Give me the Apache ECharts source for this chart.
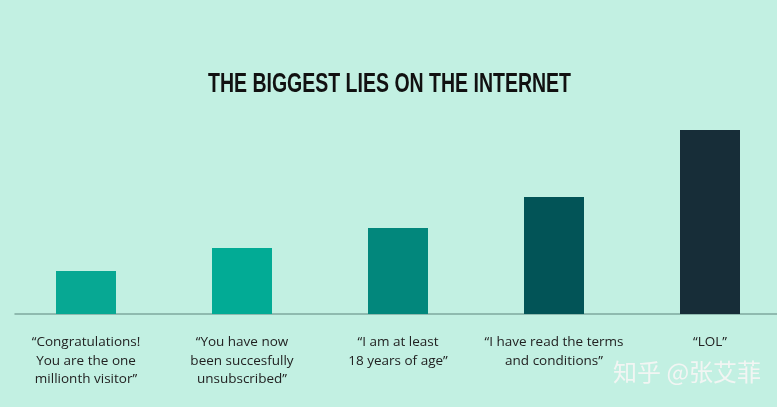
<!DOCTYPE html>
<html>
<head>
<meta charset="utf-8">
<script src="https://cdn.jsdelivr.net/npm/echarts@6/dist/echarts.min.js"></script>
<style>
html,body{margin:0;padding:0;background:#c2f0e2;}
#chart{width:777px;height:407px;}
</style>
</head>
<body>
<div id="chart"></div>
<script>
const titleText = 'THE BIGGEST LIES ON THE INTERNET';
const categories = [
  '\u201cCongratulations!\nYou are the one\nmillionth visitor\u201d',
  '\u201cYou have now\nbeen succesfully\nunsubscribed\u201d',
  '\u201cI am at least\n18 years of age\u201d',
  '\u201cI have read the terms\nand conditions\u201d',
  '\u201cLOL\u201d'
];
const values = [43, 66, 86, 117, 184];
const barColors = ['#07a893', '#02ab95', '#02877c', '#025457', '#172d38'];

const titleFont = 'bold 27px "Liberation Sans", Arial, sans-serif';
const cv = document.createElement('canvas').getContext('2d');
cv.font = titleFont;
const titleW = cv.measureText(titleText).width;
const targetW = 363;
const sx = targetW / titleW;

const chart = echarts.init(document.getElementById('chart'));
chart.setOption({
  backgroundColor: '#c2f0e2',
  animation: false,
  grid: [
    { left: 86, width: 624, top: 114, height: 200 },
    { left: 15, right: 0, top: 114, height: 200 }
  ],
  xAxis: [{
    type: 'category',
    gridIndex: 0,
    boundaryGap: false,
    data: categories,
    axisLine: { show: false },
    axisTick: { show: false },
    axisLabel: {
      interval: 0,
      margin: 19,
      fontFamily: 'Open Sans, Lato, sans-serif',
      fontSize: 13.5,
      lineHeight: 18.5,
      color: '#222',
      align: 'center'
    }
  }, {
    type: 'value',
    gridIndex: 1,
    min: 0, max: 1,
    axisLine: { show: true, lineStyle: { color: '#7fa89e', width: 1.5 } },
    axisTick: { show: false },
    axisLabel: { show: false },
    splitLine: { show: false }
  }],
  yAxis: [{
    type: 'value', gridIndex: 0, min: 0, max: 200,
    show: false, splitLine: { show: false }
  }, {
    type: 'value', gridIndex: 1, min: 0, max: 1,
    show: false, splitLine: { show: false }
  }],
  series: [{
    type: 'bar',
    xAxisIndex: 0, yAxisIndex: 0,
    barWidth: 60,
    z: 3,
    data: values.map((v, i) => ({ value: v, itemStyle: { color: barColors[i] } }))
  }],
  graphic: [{
    type: 'text',
    x: 389.5 - targetW / 2,
    y: 71,
    scaleX: sx,
    style: {
      text: titleText,
      font: titleFont,
      fill: '#111'
    }
  }, {
    type: 'text',
    left: 613,
    top: 360,
    style: {
      text: '知乎 @张艾菲',
      font: '24px "Noto Sans CJK SC", sans-serif',
      fill: '#f2f5f3',
      shadowColor: 'rgba(70,80,75,0.6)',
      shadowBlur: 2,
      shadowOffsetX: 1,
      shadowOffsetY: 1
    }
  }]
});
</script>
</body>
</html>
